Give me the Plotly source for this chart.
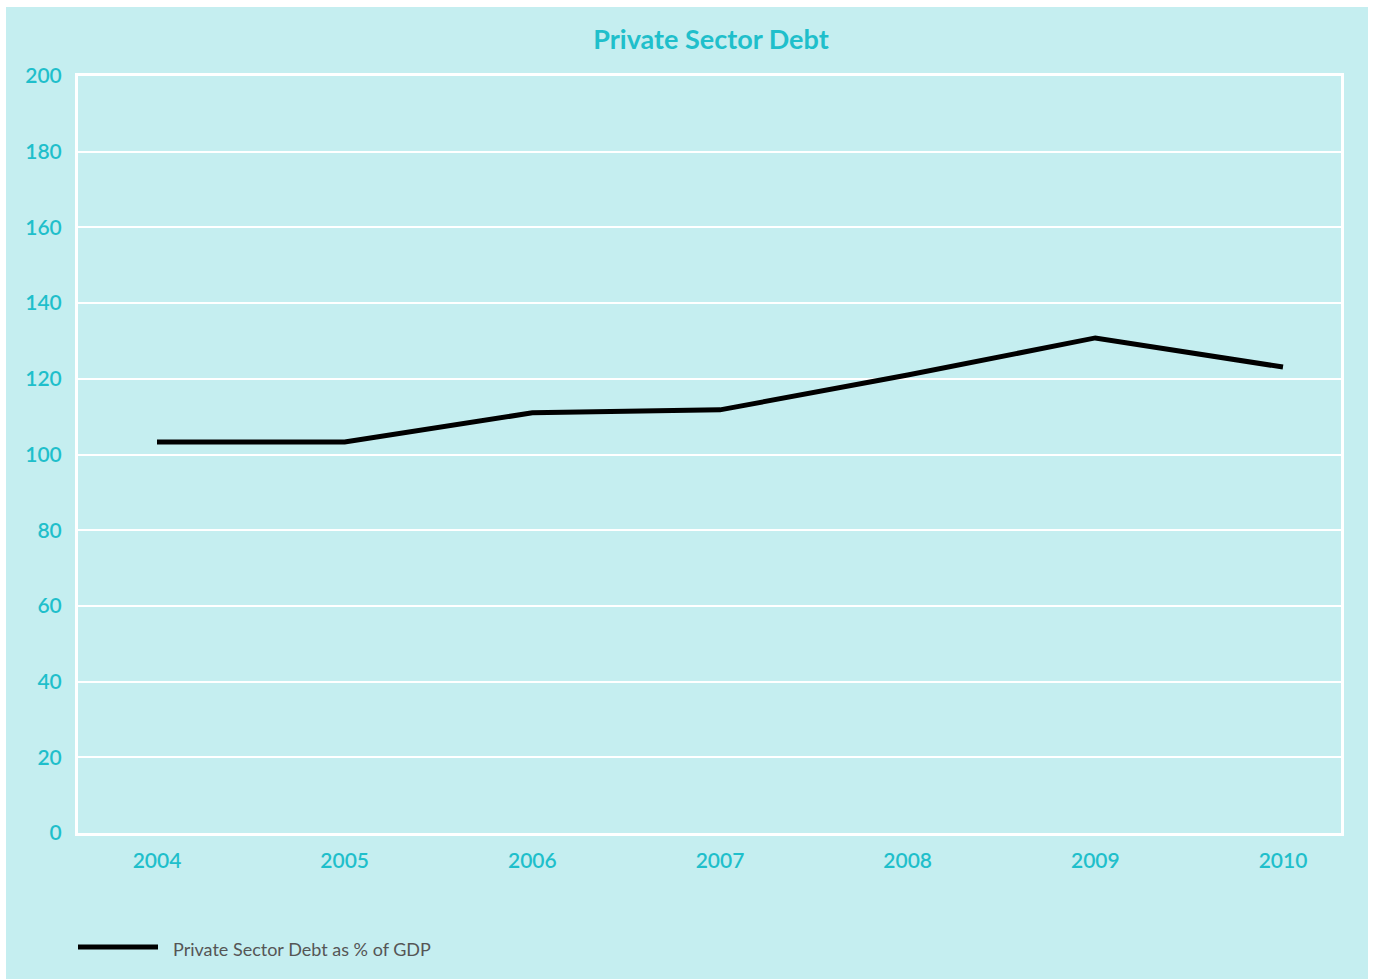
import plotly.graph_objects as go

# Private sector debt as % of GDP
years = [2004, 2005, 2006, 2007, 2008, 2009, 2010]
debt_pct_gdp = [103.3, 103.3, 111.0, 111.8, 121.0, 130.8, 123.1]
y_ticks = [0, 20, 40, 60, 80, 100, 120, 140, 160, 180, 200]
series_name = "Private Sector Debt as % of GDP"

W, H = 1373, 979
ML, MR, MT, MB = 78, 32, 76, 146
PW, PH = W - ML - MR, H - MT - MB

BG = "#c5eef0"
ACCENT = "#1fbfcb"


def px_x(p):
    return (p - ML) / PW


def px_y(p):
    return (H - MB - p) / PH


fig = go.Figure()
fig.add_trace(go.Scatter(
    x=years, y=debt_pct_gdp, mode="lines", name=series_name,
    line=dict(color="#000000", width=5),
    showlegend=False,
))

tick_font = dict(family="Lato", size=21, color=ACCENT, weight=600)

fig.update_layout(
    width=W, height=H,
    margin=dict(l=ML, r=MR, t=MT, b=MB),
    paper_bgcolor="#ffffff",
    plot_bgcolor=BG,
    title=dict(
        text="<b>Private Sector Debt</b>",
        font=dict(family="Lato", size=27, color=ACCENT),
        x=px_x(711), xref="paper", xanchor="center",
        y=1 - 40 / H, yanchor="middle",
    ),
    xaxis=dict(
        range=[2004 - 79 / 187.67, 2010 + 58 / 187.67],
        tickmode="array", tickvals=years, ticktext=[str(y) for y in years],
        showgrid=False, zeroline=False,
        showline=True, mirror=True, linecolor="#ffffff", linewidth=3,
        ticks="outside", ticklen=7, tickcolor="rgba(0,0,0,0)",
        tickfont=tick_font,
    ),
    yaxis=dict(
        range=[0, 200],
        tickmode="array", tickvals=y_ticks,
        showgrid=True, gridcolor="#ffffff", gridwidth=2,
        zeroline=False,
        showline=True, mirror=True, linecolor="#ffffff", linewidth=3,
        ticks="outside", ticklen=9, tickcolor="rgba(0,0,0,0)",
        tickfont=tick_font,
    ),
    shapes=[
        # panel background behind the whole chart
        dict(type="rect", xref="paper", yref="paper", layer="below",
             x0=px_x(6), x1=px_x(1368), y0=px_y(979), y1=px_y(7),
             fillcolor=BG, line=dict(width=0)),
        # legend swatch
        dict(type="line", xref="paper", yref="paper",
             x0=px_x(78), x1=px_x(158), y0=px_y(947), y1=px_y(947),
             line=dict(color="#000000", width=5)),
    ],
    annotations=[
        dict(text=series_name, xref="paper", yref="paper",
             x=px_x(171), y=px_y(949), xanchor="left", yanchor="middle",
             showarrow=False,
             font=dict(family="Lato", size=18, color="#555555")),
    ],
)

fig.write_html("out.html")
